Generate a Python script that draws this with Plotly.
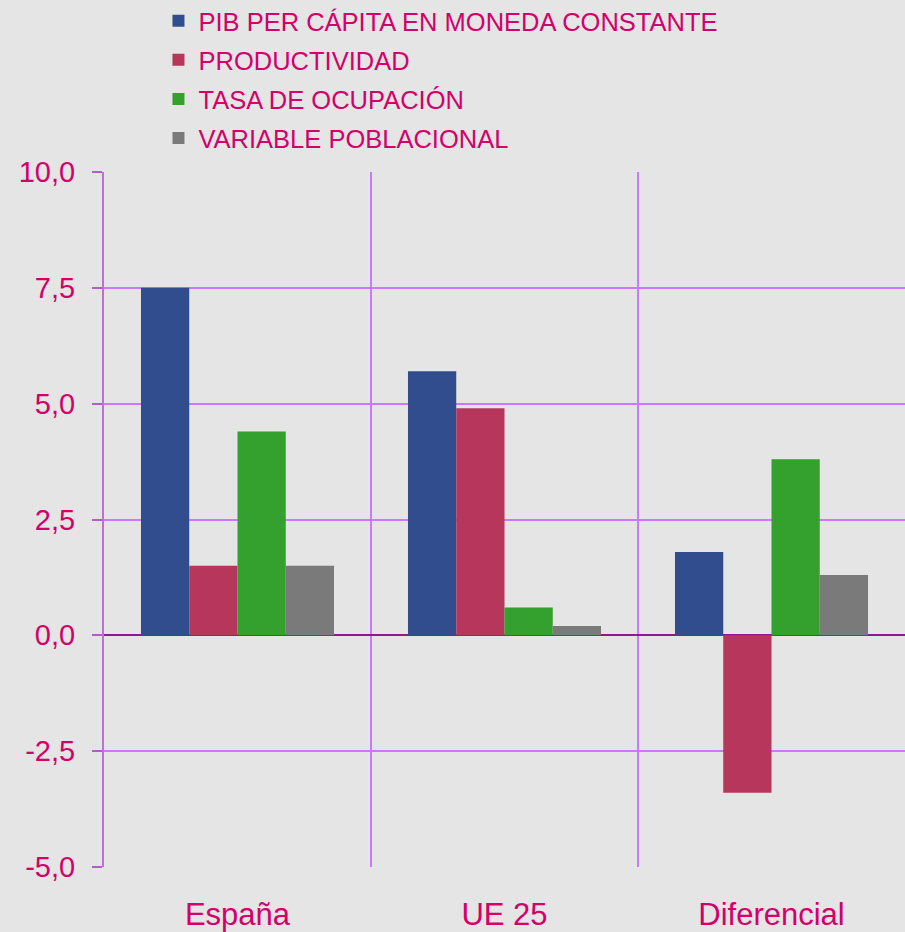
import plotly.graph_objects as go

categories = ["España", "UE 25", "Diferencial"]
series_names = ["PIB PER CÁPITA EN MONEDA CONSTANTE", "PRODUCTIVIDAD",
                "TASA DE OCUPACIÓN", "VARIABLE POBLACIONAL"]
pib = [7.5, 5.7, 1.8]
productividad = [1.5, 4.9, -3.4]
ocupacion = [4.4, 0.6, 3.8]
poblacional = [1.5, 0.2, 1.3]
tick_vals = [-5, -2.5, 0, 2.5, 5, 7.5, 10]
tick_text = ["-5,0", "-2,5", "0,0", "2,5", "5,0", "7,5", "10,0"]

colors = ["#314D8E", "#B6375B", "#34A02D", "#7A7A7A"]
text_color = "#D4006A"
grid_color = "#CC77FF"
series = [pib, productividad, ocupacion, poblacional]

fig = go.Figure()
for i, (name, vals, col) in enumerate(zip(series_names, series, colors)):
    fig.add_trace(go.Bar(x=categories, y=vals, name=name, marker_color=col,
                         marker_line_width=0, legendgroup=f"g{i}"))

fig.update_layout(
    template="none",
    width=905, height=932,
    paper_bgcolor="#E5E5E5", plot_bgcolor="#E5E5E5",
    margin=dict(l=104, r=0, t=172, b=65, pad=0, autoexpand=False),
    barmode="group", bargap=0.277, bargroupgap=0,
    font=dict(family="Liberation Sans, Arial, sans-serif", color=text_color),
    legend=dict(x=0.068, y=1.251, xanchor="left", yanchor="top",
                font=dict(size=25.5, color=text_color),
                bgcolor="rgba(0,0,0,0)", tracegroupgap=3,
                traceorder="grouped"),
    showlegend=True,
)
fig.update_xaxes(
    tickson="boundaries", showgrid=True, gridcolor=grid_color, gridwidth=1.5,
    ticks="", tickfont=dict(size=31, color=text_color),
    ticklabelstandoff=26,
    showline=False, zeroline=False,
)
fig.update_yaxes(
    range=[-5, 10], tickvals=tick_vals, ticktext=tick_text,
    tickfont=dict(size=29, color=text_color),
    showgrid=True, gridcolor=grid_color, gridwidth=1.5,
    zeroline=True, zerolinecolor="#8B1A8B", zerolinewidth=2,
    showline=True, linecolor="#C070D0", linewidth=2,
    ticks="outside", ticklen=10, tickcolor="#B060C0", tickwidth=2,
    ticklabelstandoff=11,
)

fig.write_html("out.html", config={"displayModeBar": False},
               post_script="document.body.style.margin='0';document.body.style.background='#E5E5E5';")
